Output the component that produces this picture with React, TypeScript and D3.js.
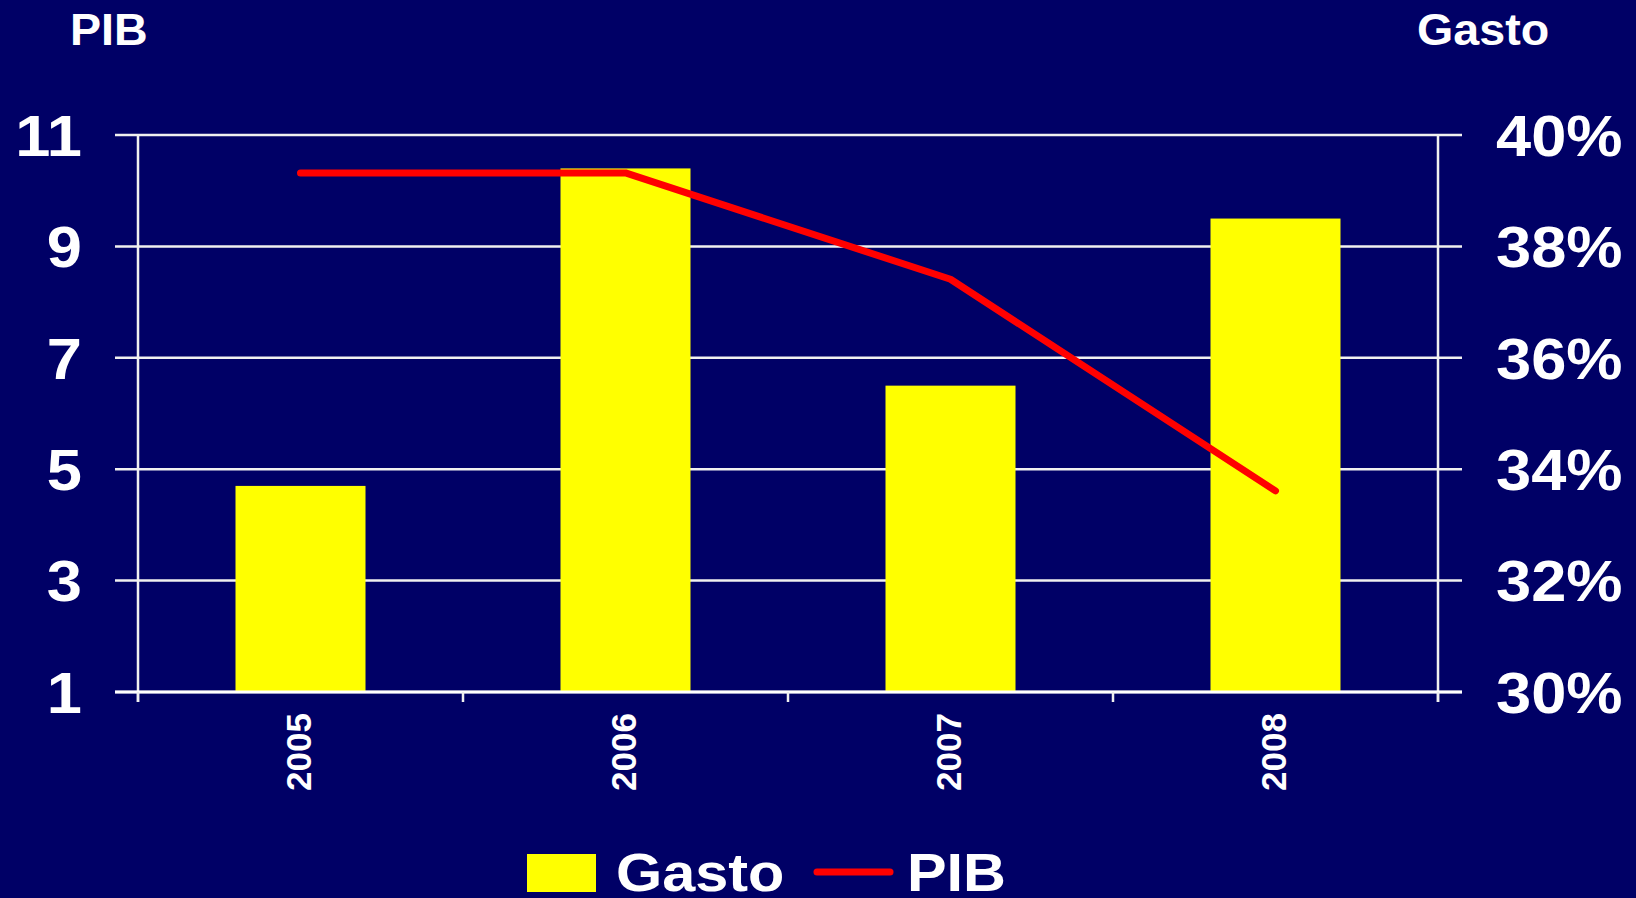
import React from 'react';
import * as d3 from 'd3';

const years = ['2005', '2006', '2007', '2008'];
const gastoValues = [33.7, 39.4, 35.5, 38.5]; // % (right axis)
const pibValues = [10.32, 10.32, 8.41, 4.61]; // left axis
const pibTicks = [1, 3, 5, 7, 9, 11];
const gastoTicks = [30, 32, 34, 36, 38, 40];

const W = 1636;
const H = 898;
const bg = '#000066';
const font = '"Liberation Sans", Arial, sans-serif';

const plot = {left: 138, right: 1438, top: 135, bottom: 692};

// bold white text, slightly widened like the original slide font
function Label(props: {x: number; y: number; size: number; anchor?: string; dy?: string; sx?: number; children: React.ReactNode}) {
  const {x, y, size, anchor = 'start', dy, sx = 1.09, children} = props;
  return (
    <text transform={`translate(${x},${y}) scale(${sx},1)`} dy={dy} textAnchor={anchor} fill="#fff"
      fontFamily={font} fontWeight="bold" fontSize={size}>{children}</text>
  );
}

export default function App() {
  const x = d3.scaleBand<string>().domain(years).range([plot.left, plot.right]);
  const yLeft = d3.scaleLinear().domain([1, 11]).range([plot.bottom, plot.top]);
  const yRight = d3.scaleLinear().domain([30, 40]).range([plot.bottom, plot.top]);
  const barW = x.bandwidth() * 0.4;
  const cx = (d: string) => (x(d) as number) + x.bandwidth() / 2;

  const line = d3.line<number>()
    .x((_, i) => cx(years[i]))
    .y(d => yLeft(d));

  const ticksX = [...years.map(d => x(d) as number), plot.right];

  return (
    <svg width={W} height={H} style={{position: 'absolute', left: 0, top: 0, display: 'block'}}>
      <rect x={0} y={0} width={W} height={H} fill={bg} />

      {/* grid */}
      {pibTicks.map(t => (
        <line key={`g${t}`} x1={plot.left - 23} x2={plot.right + 24} y1={yLeft(t)} y2={yLeft(t)}
          stroke="#f0f0f0" strokeWidth={2.5} />
      ))}

      {/* bars */}
      {years.map((d, i) => (
        <rect key={d} x={cx(d) - barW / 2} y={yRight(gastoValues[i])} width={barW}
          height={plot.bottom - yRight(gastoValues[i])} fill="#ffff00" />
      ))}

      {/* axes */}
      <line x1={plot.left} x2={plot.left} y1={plot.top} y2={plot.bottom + 10} stroke="#f0f0f0" strokeWidth={2.5} />
      <line x1={plot.right} x2={plot.right} y1={plot.top} y2={plot.bottom + 10} stroke="#f0f0f0" strokeWidth={2.5} />
      <line x1={plot.left - 23} x2={plot.right + 24} y1={plot.bottom} y2={plot.bottom} stroke="#ffffff" strokeWidth={3} />
      {ticksX.map((t, i) => (
        <line key={`tx${i}`} x1={t} x2={t} y1={plot.bottom} y2={plot.bottom + 10} stroke="#f0f0f0" strokeWidth={2.5} />
      ))}

      {/* PIB line */}
      <path d={line(pibValues) as string} fill="none" stroke="#ff0000" strokeWidth={7}
        strokeLinecap="round" strokeLinejoin="round" />

      {/* left tick labels */}
      {pibTicks.map(t => (
        <Label key={`l${t}`} x={82} y={yLeft(t)} dy="0.36em" anchor="end" size={58}>{t}</Label>
      ))}
      {/* right tick labels */}
      {gastoTicks.map(t => (
        <Label key={`r${t}`} x={1496} y={yRight(t)} dy="0.36em" size={58}>{`${t}%`}</Label>
      ))}

      {/* x labels */}
      {years.map(d => (
        <text key={`x${d}`} transform={`translate(${cx(d) - 2},713) rotate(-90)`} dy="0.36em"
          textAnchor="end" fill="#fff" fontFamily={font} fontWeight="bold" fontSize={35}>{d}</text>
      ))}

      {/* axis titles */}
      <Label x={70} y={45} size={44} sx={1.06}>PIB</Label>
      <Label x={1417} y={45} size={44} sx={1.06}>Gasto</Label>

      {/* legend */}
      <rect x={527} y={854} width={69} height={38} fill="#ffff00" />
      <Label x={616} y={891} size={54} sx={1.1}>Gasto</Label>
      <line x1={817} x2={890} y1={872} y2={872} stroke="#ff0000" strokeWidth={7} strokeLinecap="round" />
      <Label x={907} y={891} size={54} sx={1.1}>PIB</Label>
    </svg>
  );
}
